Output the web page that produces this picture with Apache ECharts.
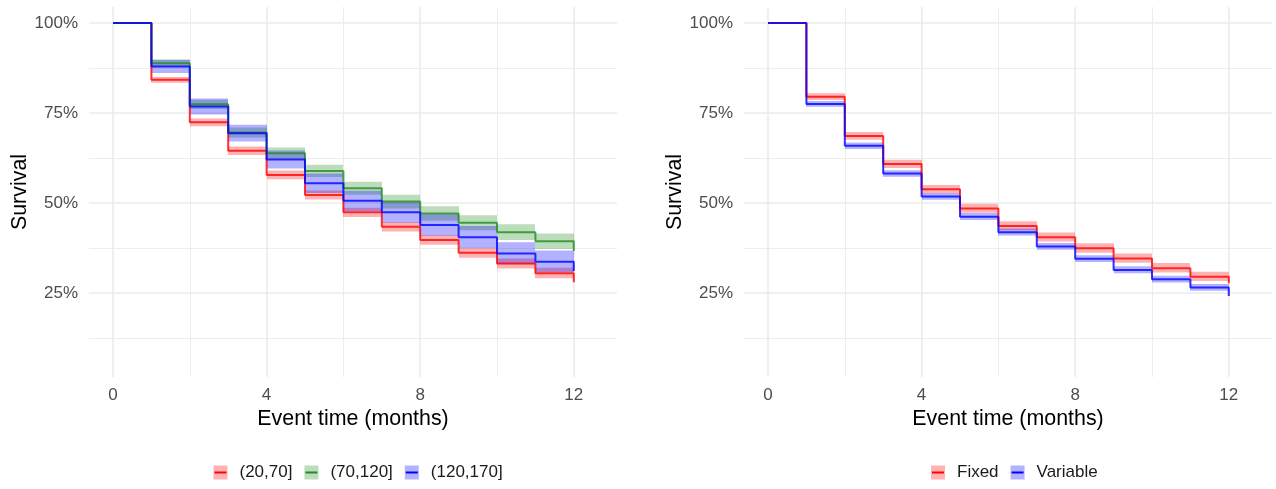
<!DOCTYPE html>
<html><head><meta charset="utf-8">
<script src="https://cdn.jsdelivr.net/npm/echarts@6/dist/echarts.min.js"></script>
<style>html,body{margin:0;padding:0;background:#fff}#c{width:1276px;height:489px}</style>
</head><body><div id="c"></div>
<script>
// ---- data ----
const months = [0,1,2,3,4,5,6,7,8,9,10,11,12];
const xTicks = [0,4,8,12];
const yTicks = [25,50,75,100];
const xMinor = [2,6,10];
const yMinor = [12.5,37.5,62.5,87.5];

// left panel groups
const leftNames = ['(20,70]','(70,120]','(120,170]'];
const s2070   = [100, 84.2, 72.4, 64.5, 57.8, 52.2, 47.4, 43.4, 39.7, 36.2, 33.2, 30.5, 28.0];
const lo2070  = [100, 83.4, 71.3, 63.3, 56.6, 51.0, 46.1, 42.1, 38.4, 34.8, 31.8, 29.1, 26.6];
const hi2070  = [100, 85.0, 73.5, 65.7, 59.0, 53.5, 48.7, 44.7, 41.1, 37.6, 34.6, 32.0, 29.5];
const s70120  = [100, 88.8, 77.4, 69.6, 63.8, 58.9, 54.1, 50.4, 47.1, 44.5, 41.9, 39.4, 36.7];
const lo70120 = [100, 87.7, 76.1, 68.2, 62.2, 57.2, 52.3, 48.5, 45.1, 42.4, 39.7, 37.2, 34.4];
const hi70120 = [100, 89.9, 78.7, 71.0, 65.4, 60.6, 55.9, 52.3, 49.1, 46.6, 44.1, 41.5, 39.0];
const s120170 = [100, 87.9, 76.8, 69.4, 62.1, 55.5, 50.6, 47.4, 43.9, 40.5, 36.0, 33.7, 31.1];
const lo120170= [100, 86.1, 74.6, 67.1, 59.6, 52.8, 47.8, 44.5, 40.9, 37.4, 33.0, 30.8, 28.0];
const hi120170= [100, 89.7, 79.0, 71.7, 64.6, 58.2, 53.4, 50.3, 46.9, 43.6, 39.1, 36.8, 34.2];

// right panel groups
const rightNames = ['Fixed','Variable'];
const sFixed  = [100, 79.5, 68.6, 60.8, 53.8, 48.5, 43.6, 40.5, 37.4, 34.6, 31.9, 29.5, 27.7];
const loFixed = [100, 78.6, 67.6, 59.7, 52.7, 47.3, 42.4, 39.3, 36.2, 33.4, 30.7, 28.3, 26.5];
const hiFixed = [100, 80.5, 69.7, 62.0, 55.0, 49.8, 44.9, 41.8, 38.8, 36.0, 33.3, 30.9, 29.1];
const sVar    = [100, 77.5, 65.9, 58.2, 51.8, 46.2, 41.9, 37.9, 34.5, 31.4, 28.8, 26.5, 24.2];
const loVar   = [100, 76.7, 65.0, 57.3, 50.9, 45.3, 41.0, 37.0, 33.6, 30.5, 27.9, 25.6, 23.3];
const hiVar   = [100, 78.3, 66.8, 59.1, 52.8, 47.2, 42.9, 38.9, 35.5, 32.4, 29.8, 27.5, 25.2];

// ---- styling ----
const FONT = '"Liberation Sans", Arial, sans-serif';
const RED = '#FF0000', GREEN = '#228B22', BLUE = '#0000FF';
const RED_BAND = 'rgba(255,0,0,0.3)', GREEN_BAND = 'rgba(34,139,34,0.3)', BLUE_BAND = 'rgba(0,0,255,0.3)';
const LINE_OPACITY = 0.8;

const grids = [
  {left: 89, top: 7, width: 528, height: 370},
  {left: 744, top: 7, width: 528, height: 370}
];

function xAxisFor(gi) {
  return {
    gridIndex: gi, type: 'value', min: -0.625, max: 13.125,
    axisLine: {show: false}, axisTick: {show: false, customValues: xTicks}, splitLine: {show: false},
    axisLabel: {customValues: xTicks, fontSize: 17, color: '#4D4D4D', margin: 10, fontFamily: FONT},
    name: 'Event time (months)', nameLocation: 'middle', nameGap: 28,
    nameTextStyle: {fontSize: 21.4, color: '#000', fontFamily: FONT}
  };
}
function yAxisFor(gi) {
  return {
    gridIndex: gi, type: 'value', min: 1.67, max: 104.44,
    axisLine: {show: false}, axisTick: {show: false, customValues: yTicks}, splitLine: {show: false},
    axisLabel: {customValues: yTicks, fontSize: 17, color: '#4D4D4D', margin: 11, fontFamily: FONT,
      formatter: v => v + '%'},
    name: 'Survival', nameLocation: 'middle', nameGap: 58, nameRotate: 90,
    nameTextStyle: {fontSize: 21.4, color: '#000', fontFamily: FONT}
  };
}

function gridLineSeries(gi) {
  const major = {color: '#EBEBEB', width: 1.6, type: 'solid'};
  const minor = {color: '#EBEBEB', width: 0.9, type: 'solid'};
  const data = [];
  yTicks.forEach(v => data.push({yAxis: v, lineStyle: major}));
  yMinor.forEach(v => data.push({yAxis: v, lineStyle: minor}));
  xTicks.forEach(v => data.push({xAxis: v, lineStyle: major}));
  xMinor.forEach(v => data.push({xAxis: v, lineStyle: minor}));
  return {
    type: 'line', name: '_grid' + gi, xAxisIndex: gi, yAxisIndex: gi, data: [],
    symbol: 'none', silent: true, z: 1,
    markLine: {silent: true, symbol: ['none','none'], label: {show: false}, animation: false, z: 1, data: data}
  };
}

function groupSeries(gi, name, S, lo, hi, lineColor, bandColor) {
  // one rectangle per interval [t_i, t_{i+1}) spanning lo..hi
  const bandData = months.slice(0, -1).map((t, i) => [t, months[i + 1], lo[i], hi[i]]);
  return [
    {type: 'custom', name: name + ' band', xAxisIndex: gi, yAxisIndex: gi, silent: true, z: 6,
     data: bandData, encode: {x: [0, 1], y: [2, 3]},
     renderItem: function (params, api) {
       const pTop = api.coord([api.value(0), api.value(3)]);
       const pBot = api.coord([api.value(1), api.value(2)]);
       const x0 = Math.round(pTop[0]), x1 = Math.round(pBot[0]);
       return {type: 'rect', shape: {x: x0, y: pTop[1], width: x1 - x0, height: pBot[1] - pTop[1]},
               style: {fill: bandColor}};
     }},
    {type: 'line', name: name, xAxisIndex: gi, yAxisIndex: gi, step: 'end',
     data: months.map((t, i) => [t, S[i]]), symbol: 'none', z: 10,
     itemStyle: {color: lineColor},
     lineStyle: {color: lineColor, width: 2, opacity: LINE_OPACITY}}
  ];
}

function legendPair(left, names, lineColors, bandColors) {
  const common = {left: left, top: 464, orient: 'horizontal', itemWidth: 21, itemHeight: 14, itemGap: 12,
    padding: 0, selectedMode: false, symbolKeepAspect: true};
  const bandIcon = 'path://M0,0H14V14H0ZM21,14';
  const lineIcon = 'path://M0,0M1,6H13V8H1ZM21,14';
  return [
    Object.assign({}, common, {
      textStyle: {fontSize: 17, color: '#1A1A1A', fontFamily: FONT},
      data: names.map((n, i) => ({name: n, icon: bandIcon, itemStyle: {color: bandColors[i], borderWidth: 0, opacity: 1}}))
    }),
    Object.assign({}, common, {
      textStyle: {fontSize: 17, color: 'rgba(0,0,0,0)', fontFamily: FONT},
      data: names.map((n, i) => ({name: n, icon: lineIcon, itemStyle: {color: lineColors[i], borderWidth: 0, opacity: 1}}))
    })
  ];
}

const series = [gridLineSeries(0), gridLineSeries(1)]
  .concat(groupSeries(0, leftNames[0], s2070, lo2070, hi2070, RED, RED_BAND))
  .concat(groupSeries(0, leftNames[1], s70120, lo70120, hi70120, GREEN, GREEN_BAND))
  .concat(groupSeries(0, leftNames[2], s120170, lo120170, hi120170, BLUE, BLUE_BAND))
  .concat(groupSeries(1, rightNames[0], sFixed, loFixed, hiFixed, RED, RED_BAND))
  .concat(groupSeries(1, rightNames[1], sVar, loVar, hiVar, BLUE, BLUE_BAND));

const chart = echarts.init(document.getElementById('c'), null, {renderer: 'canvas'});
chart.setOption({
  animation: false,
  backgroundColor: '#fff',
  grid: grids.map(g => Object.assign({outerBoundsMode: 'none', containLabel: false}, g)),
  xAxis: [xAxisFor(0), xAxisFor(1)],
  yAxis: [yAxisFor(0), yAxisFor(1)],
  legend: legendPair(213.5, leftNames, [RED, GREEN, BLUE], [RED_BAND, GREEN_BAND, BLUE_BAND])
    .concat(legendPair(931, rightNames, [RED, BLUE], [RED_BAND, BLUE_BAND])),
  series: series
});
</script>
</body></html>
